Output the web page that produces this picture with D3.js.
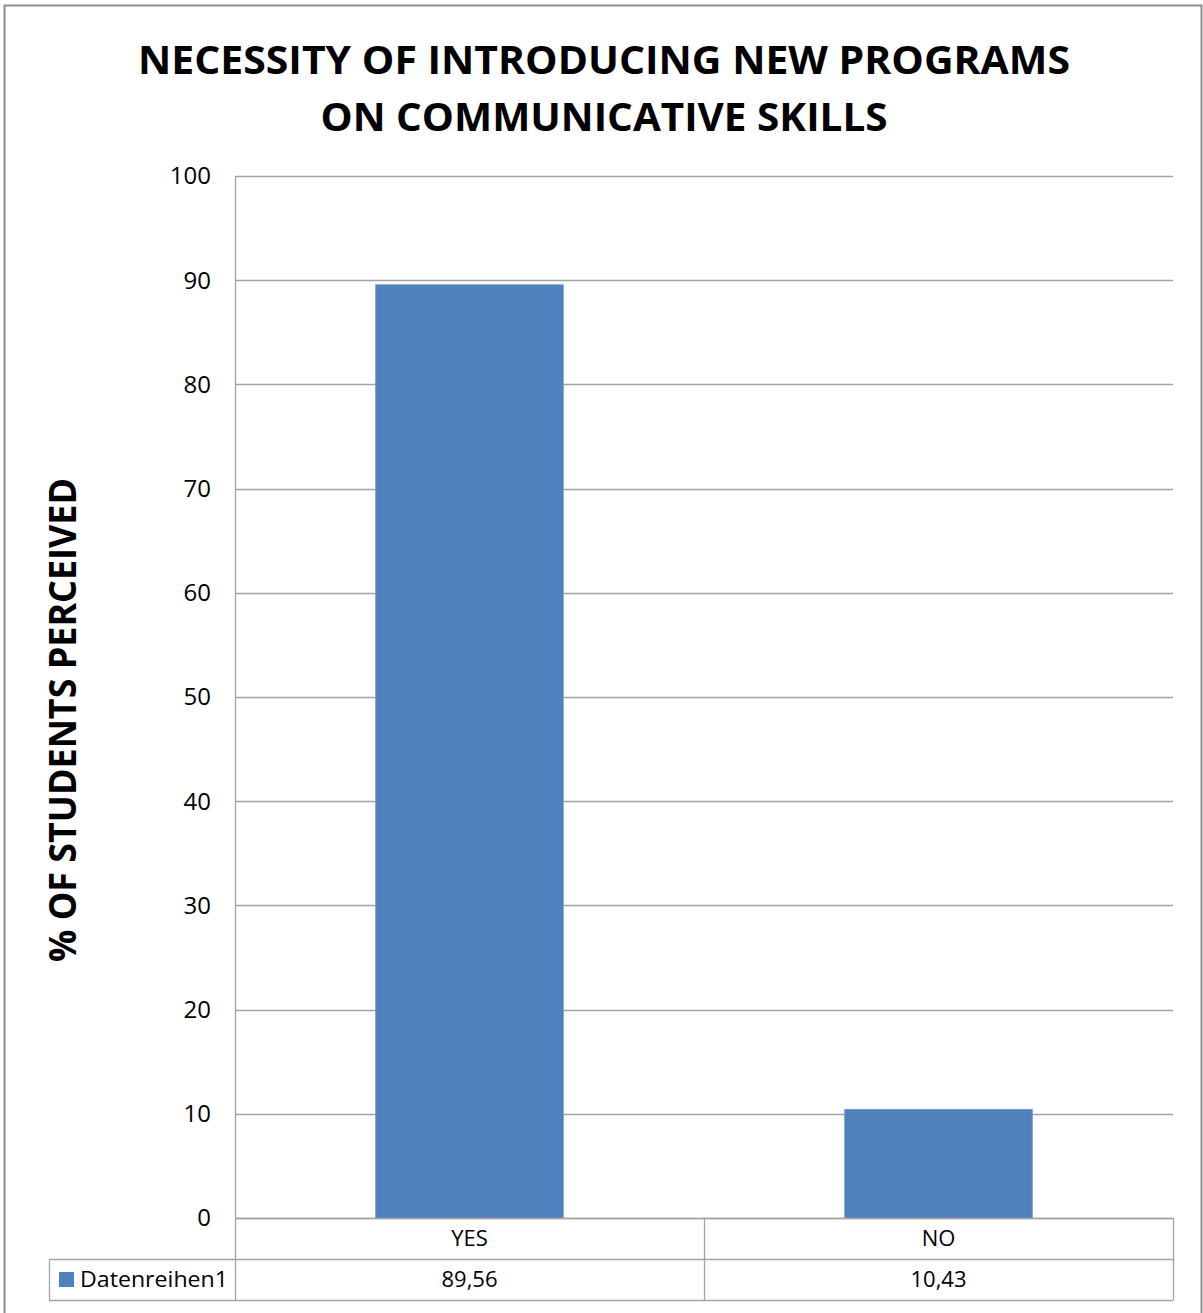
<!DOCTYPE html>
<html>
<head>
<meta charset="utf-8">
<script src="https://cdn.jsdelivr.net/npm/d3@7"></script>
<style>
  html, body { margin: 0; padding: 0; background: #fff; }
  svg { display: block; }
  text { font-family: "Open Sans", "Liberation Sans", sans-serif; fill: #000; }
</style>
</head>
<body>
<svg id="chart" width="1203" height="1313"></svg>
<script>
const categories = ["YES", "NO"];
const values = [89.56, 10.43];
const valueLabels = ["89,56", "10,43"];
const seriesName = "Datenreihen1";
const yTicks = [0, 10, 20, 30, 40, 50, 60, 70, 80, 90, 100];
const titleLines = ["NECESSITY OF INTRODUCING NEW PROGRAMS", "ON COMMUNICATIVE SKILLS"];
const yAxisTitle = "% OF STUDENTS PERCEIVED";

const W = 1203, H = 1313;
const plot = { left: 235, right: 1173, top: 176, bottom: 1218 };
const rowH = 41;
const legendLeft = 49;
const gridColor = "#a3a3a3";
const barColor = "#4f81bd";

const svg = d3.select("#chart");

// outer chart border
svg.append("rect")
  .attr("x", 4.5).attr("y", 5.5)
  .attr("width", 1197).attr("height", 1330)
  .attr("fill", "#fff").attr("stroke", "#8e8e8e").attr("stroke-width", 2);

const x = d3.scaleBand().domain(categories)
  .range([plot.left, plot.right]).paddingInner(0.6).paddingOuter(0.3);
const xCols = d3.scaleBand().domain(categories).range([plot.left, plot.right]);
const y = d3.scaleLinear().domain([0, 100]).range([plot.bottom, plot.top]);

// gridlines
svg.append("g").selectAll("line").data(yTicks).join("line")
  .attr("x1", plot.left).attr("x2", plot.right)
  .attr("y1", d => Math.round(y(d)) + 0.5).attr("y2", d => Math.round(y(d)) + 0.5)
  .attr("stroke", gridColor).attr("stroke-width", 1.3);

// y tick labels
svg.append("g").selectAll("text").data(yTicks).join("text")
  .attr("x", 211).attr("y", d => y(d))
  .attr("dy", "0.35em").attr("text-anchor", "end")
  .attr("font-size", 24).text(d => d);

// bars
svg.append("g").selectAll("rect").data(values).join("rect")
  .attr("x", (d, i) => x(categories[i]))
  .attr("width", x.bandwidth())
  .attr("y", d => y(d))
  .attr("height", d => y(0) - y(d))
  .attr("fill", barColor)
  .attr("stroke", "#6f97c9").attr("stroke-width", 0.8);

// y axis line (extends through the data table)
svg.append("line")
  .attr("x1", plot.left + 0.5).attr("x2", plot.left + 0.5)
  .attr("y1", plot.top).attr("y2", plot.bottom + 2 * rowH)
  .attr("stroke", gridColor).attr("stroke-width", 1.3);

// data table
const tbl = svg.append("g").attr("stroke", gridColor).attr("stroke-width", 1.3).attr("fill", "none");
const r1 = plot.bottom + rowH, r2 = plot.bottom + 2 * rowH;
tbl.append("line").attr("x1", plot.left).attr("x2", plot.right).attr("y1", plot.bottom + 0.5).attr("y2", plot.bottom + 0.5);
tbl.append("line").attr("x1", legendLeft).attr("x2", plot.right).attr("y1", r1 + 0.5).attr("y2", r1 + 0.5);
tbl.append("line").attr("x1", legendLeft).attr("x2", plot.right).attr("y1", r2 + 0.5).attr("y2", r2 + 0.5);
tbl.append("line").attr("x1", legendLeft + 0.5).attr("x2", legendLeft + 0.5).attr("y1", r1).attr("y2", r2);
tbl.selectAll("line.col").data(categories).join("line").attr("class", "col")
  .attr("x1", d => xCols(d) + xCols.bandwidth() + 0.5)
  .attr("x2", d => xCols(d) + xCols.bandwidth() + 0.5)
  .attr("y1", plot.bottom).attr("y2", r2);

// category labels
svg.append("g").selectAll("text").data(categories).join("text")
  .attr("x", d => xCols(d) + xCols.bandwidth() / 2)
  .attr("y", plot.bottom + rowH / 2).attr("dy", "0.36em")
  .attr("text-anchor", "middle").attr("font-size", 22).text(d => d);

// value labels
svg.append("g").selectAll("text").data(valueLabels).join("text")
  .attr("x", (d, i) => xCols(categories[i]) + xCols.bandwidth() / 2)
  .attr("y", r1 + rowH / 2).attr("dy", "0.36em")
  .attr("text-anchor", "middle").attr("font-size", 22).text(d => d);

// legend key + series name
svg.append("rect").attr("x", 59).attr("y", r1 + 13).attr("width", 15).attr("height", 15).attr("fill", barColor);
svg.append("text").attr("x", 80).attr("y", r1 + rowH / 2).attr("dy", "0.36em")
  .attr("font-size", 22).attr("textLength", 148).attr("lengthAdjust", "spacingAndGlyphs")
  .text(seriesName);

// title
const titleSpecs = [{ y: 74, len: 932 }, { y: 131, len: 567 }];
svg.append("g").selectAll("text").data(titleLines).join("text")
  .attr("x", 604).attr("y", (d, i) => titleSpecs[i].y)
  .attr("text-anchor", "middle").attr("font-size", 40).attr("font-weight", 700)
  .attr("textLength", (d, i) => titleSpecs[i].len).attr("lengthAdjust", "spacingAndGlyphs")
  .text(d => d);

// y axis title
svg.append("text")
  .attr("transform", "translate(76,720) rotate(-90)")
  .attr("text-anchor", "middle").attr("font-size", 37).attr("font-weight", 700)
  .attr("textLength", 484).attr("lengthAdjust", "spacingAndGlyphs")
  .text(yAxisTitle);
</script>
</body>
</html>
